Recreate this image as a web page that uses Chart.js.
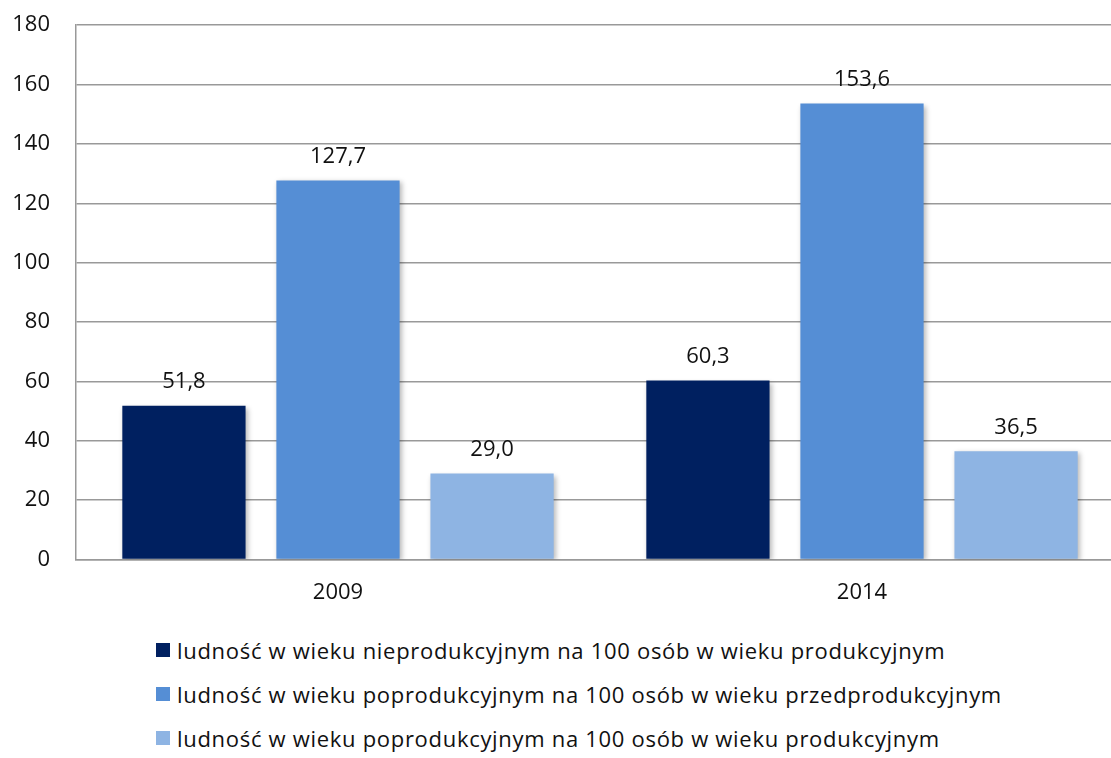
<!DOCTYPE html>
<html>
<head>
<meta charset="utf-8">
<script src="https://cdn.jsdelivr.net/npm/chart.js@4"></script>
<style>
  html, body { margin: 0; padding: 0; background: #fff; overflow: hidden; }
  body { width: 1111px; height: 758px; position: relative; font-family: "Open Sans", sans-serif; }
  #wrap { position: absolute; left: 0; top: -14px; width: 1124px; height: 640px; }
  #legend { position: absolute; left: 156px; top: 628px; }
  #legend .row { height: 44px; display: flex; align-items: center; font-size: 22px; letter-spacing: 0.7px; color: #111; white-space: nowrap; }
  #legend .box { width: 14px; height: 14px; margin-right: 7px; }
</style>
</head>
<body>
<div id="wrap"><canvas id="chart"></canvas></div>
<div id="legend"></div>
<script>
const years = ["2009", "2014"];
const seriesLabels = [
  "ludność w wieku nieprodukcyjnym na 100 osób w wieku produkcyjnym",
  "ludność w wieku poprodukcyjnym na 100 osób w wieku przedprodukcyjnym",
  "ludność w wieku poprodukcyjnym na 100 osób w wieku produkcyjnym",
];
const nonProductive = [51.8, 60.3];
const postPerPre = [127.7, 153.6];
const postPerProductive = [29.0, 36.5];
const seriesColors = ["#002060", "#558ED5", "#8EB4E3"];

const FONT = "'Open Sans', sans-serif";

// value labels above bars, comma as decimal separator
const valueLabels = {
  id: "valueLabels",
  afterDatasetsDraw(chart) {
    const ctx = chart.ctx;
    ctx.save();
    ctx.font = "22px " + FONT;
    ctx.fillStyle = "#111";
    ctx.textAlign = "center";
    ctx.textBaseline = "bottom";
    chart.data.datasets.forEach((ds, i) => {
      chart.getDatasetMeta(i).data.forEach((bar, j) => {
        ctx.fillText(ds.data[j].toFixed(1).replace(".", ","), bar.x, bar.y - 13);
      });
    });
    ctx.restore();
  },
};

// soft shadow behind the bars
const barShadow = {
  id: "barShadow",
  beforeDatasetsDraw(chart) {
    const ctx = chart.ctx;
    ctx.save();
    ctx.shadowColor = "rgba(0,0,0,0.28)";
    ctx.shadowBlur = 5;
    ctx.shadowOffsetX = 2;
    ctx.shadowOffsetY = 2;
  },
  afterDatasetsDraw(chart) {
    chart.ctx.restore();
  },
};

const datasets = [nonProductive, postPerPre, postPerProductive].map((data, i) => ({
  label: seriesLabels[i],
  data: data,
  backgroundColor: seriesColors[i],
  borderWidth: 0,
  categoryPercentage: 0.882,
  barPercentage: 0.8,
}));

new Chart(document.getElementById("chart"), {
  type: "bar",
  data: { labels: years, datasets: datasets },
  options: {
    responsive: true,
    maintainAspectRatio: false,
    animation: false,
    events: [],
    layout: { padding: { top: 0, left: 12, right: 0, bottom: 0 } },
    plugins: {
      legend: { display: false },
      tooltip: { enabled: false },
    },
    scales: {
      x: {
        grid: { display: false, drawTicks: false },
        border: { display: true, color: "#999", width: 1.5 },
        ticks: { color: "#111", font: { family: FONT, size: 22 }, padding: 20 },
      },
      y: {
        min: 0,
        max: 180,
        afterFit(scale) { scale.width = 64; },
        ticks: { stepSize: 20, color: "#111", font: { family: FONT, size: 22 }, padding: 26 },
        grid: { color: "#999", lineWidth: 1.5, drawTicks: false },
        border: { display: true, color: "#999", width: 1.5 },
      },
    },
  },
  plugins: [barShadow, valueLabels],
});

// legend as plain html, one series per row
const legend = document.getElementById("legend");
seriesLabels.forEach((label, i) => {
  const row = document.createElement("div");
  row.className = "row";
  const box = document.createElement("span");
  box.className = "box";
  box.style.background = seriesColors[i];
  const text = document.createElement("span");
  text.textContent = label;
  row.appendChild(box);
  row.appendChild(text);
  legend.appendChild(row);
});
</script>
</body>
</html>
